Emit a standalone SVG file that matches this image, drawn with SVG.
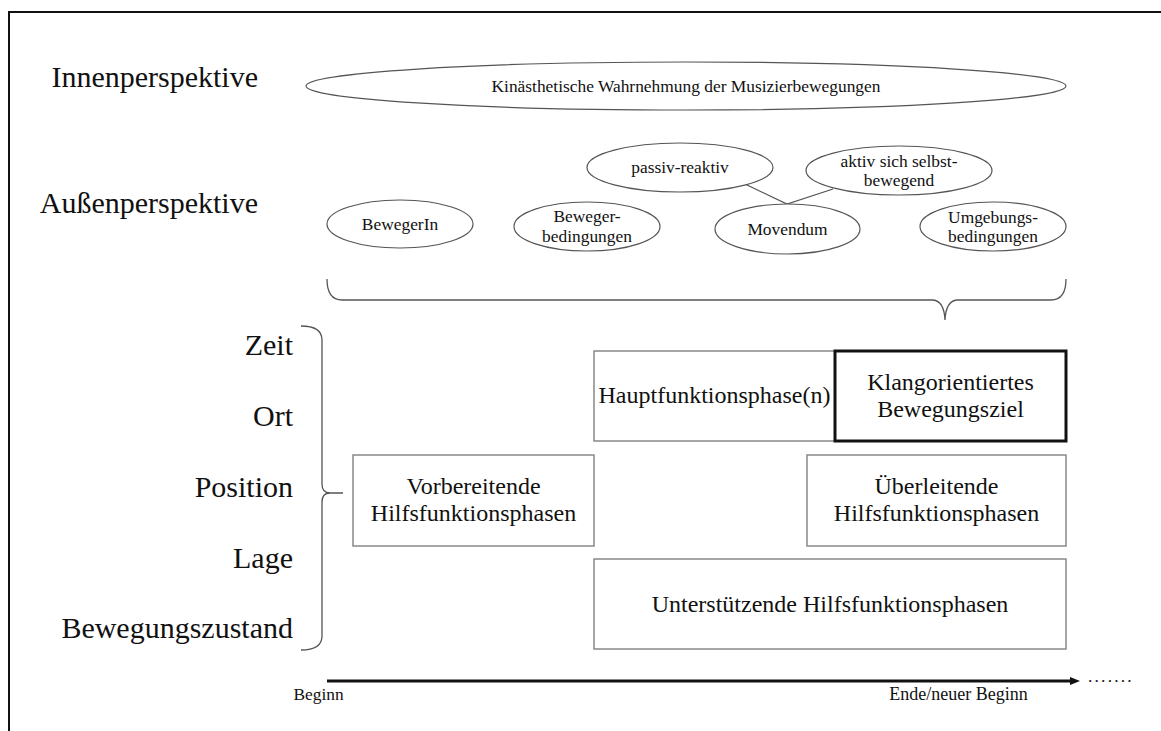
<svg xmlns="http://www.w3.org/2000/svg" width="1161" height="731" viewBox="0 0 1161 731">
<style>
  .t { font-family: "Liberation Serif", "Times New Roman", serif; fill: #111; }
  .big { font-size: 30px; }
  .mid { font-size: 24px; }
  .sm { font-size: 17.4px; }
  .ell { fill: #fff; stroke: #555; stroke-width: 1.2; }
  .box { fill: #fff; stroke: #888; stroke-width: 1.5; }
  .thick { fill: none; stroke: #111; stroke-width: 3; }
  .brace { fill: none; stroke: #555; stroke-width: 1.3; }
  .link { stroke: #555; stroke-width: 1.2; fill: none; }
</style>
<defs>
  <marker id="arrow" markerUnits="userSpaceOnUse" markerWidth="10" markerHeight="10" refX="4" refY="5" orient="auto">
    <path d="M0,1 L10,5 L0,9 z" fill="#111"/>
  </marker>
</defs>
<rect x="0" y="0" width="1161" height="731" fill="#fff"/>
<rect x="9" y="12" width="1220" height="800" fill="none" stroke="#111" stroke-width="2"/>

<g id="labels">
  <text class="t big" x="258" y="87" text-anchor="end">Innenperspektive</text>
  <text class="t big" x="258" y="213" text-anchor="end">Außenperspektive</text>
  <text class="t big" x="293" y="355" text-anchor="end">Zeit</text>
  <text class="t big" x="293" y="426" text-anchor="end">Ort</text>
  <text class="t big" x="293" y="497" text-anchor="end">Position</text>
  <text class="t big" x="293" y="568" text-anchor="end">Lage</text>
  <text class="t big" x="293" y="638" text-anchor="end">Bewegungszustand</text>
</g>

<g id="connectors">
  <path class="link" d="M745,184 L787,204 L833,189"/>
  <path class="brace" d="M327,279 Q327,300 342,300 L932,300 Q944,300 945,320 Q946,300 958,300 L1051,300 Q1066,300 1066,279"/>
  <path class="brace" d="M301,326 Q322,326 322,340 L322,484 Q322,493 330,493 L343,493 M330,493 Q322,493 322,502 L322,636 Q322,650 301,650"/>
  <line x1="327" y1="681" x2="1074" y2="681" stroke="#111" stroke-width="3" marker-end="url(#arrow)"/>
</g>

<g id="kinaesthetik">
  <ellipse class="ell" cx="686" cy="86" rx="380" ry="24"/>
  <text class="t sm" x="686" y="92" text-anchor="middle">Kinästhetische Wahrnehmung der Musizierbewegungen</text>
</g>
<g id="bewegerin">
  <ellipse class="ell" cx="400" cy="224" rx="73" ry="24"/>
  <text class="t sm" x="400" y="230" text-anchor="middle">BewegerIn</text>
</g>
<g id="bewegerbedingungen">
  <ellipse class="ell" cx="587" cy="226.5" rx="73" ry="24.5"/>
  <text class="t sm" x="587" y="222" text-anchor="middle">Beweger-</text>
  <text class="t sm" x="587" y="242" text-anchor="middle">bedingungen</text>
</g>
<g id="passiv">
  <ellipse class="ell" cx="680" cy="167.5" rx="93" ry="24.5"/>
  <text class="t sm" x="680" y="173" text-anchor="middle">passiv-reaktiv</text>
</g>
<g id="aktiv">
  <ellipse class="ell" cx="899" cy="170.5" rx="93" ry="24.5"/>
  <text class="t sm" x="899" y="167" text-anchor="middle">aktiv sich selbst-</text>
  <text class="t sm" x="899" y="186" text-anchor="middle">bewegend</text>
</g>
<g id="movendum">
  <ellipse class="ell" cx="787.5" cy="229" rx="72.5" ry="25"/>
  <text class="t sm" x="787.5" y="235" text-anchor="middle">Movendum</text>
</g>
<g id="umgebung">
  <ellipse class="ell" cx="993" cy="226.5" rx="73" ry="24.5"/>
  <text class="t sm" x="993" y="223" text-anchor="middle">Umgebungs-</text>
  <text class="t sm" x="993" y="242" text-anchor="middle">bedingungen</text>
</g>

<g id="hauptfunktion">
  <rect class="box" x="594" y="351" width="241" height="90"/>
  <text class="t mid" x="714.5" y="403" text-anchor="middle">Hauptfunktionsphase(n)</text>
</g>
<g id="klangziel">
  <rect class="thick" x="835" y="351" width="231" height="90"/>
  <text class="t mid" x="950.5" y="390" text-anchor="middle">Klangorientiertes</text>
  <text class="t mid" x="950.5" y="417" text-anchor="middle">Bewegungsziel</text>
</g>
<g id="vorbereitend">
  <rect class="box" x="353" y="455" width="241" height="91"/>
  <text class="t mid" x="473.5" y="494" text-anchor="middle">Vorbereitende</text>
  <text class="t mid" x="473.5" y="521" text-anchor="middle">Hilfsfunktionsphasen</text>
</g>
<g id="ueberleitend">
  <rect class="box" x="807" y="455" width="259" height="91"/>
  <text class="t mid" x="936.5" y="494" text-anchor="middle">Überleitende</text>
  <text class="t mid" x="936.5" y="521" text-anchor="middle">Hilfsfunktionsphasen</text>
</g>
<g id="unterstuetzend">
  <rect class="box" x="594" y="559" width="472" height="90"/>
  <text class="t mid" x="830" y="612" text-anchor="middle">Unterstützende Hilfsfunktionsphasen</text>
</g>

<g id="timeline-labels">
  <text class="t sm" x="318.5" y="700" text-anchor="middle">Beginn</text>
  <text class="t" style="font-size:18px" x="958.5" y="700" text-anchor="middle">Ende/neuer Beginn</text>
  <text class="t sm" x="1088" y="682" letter-spacing="2.2">.......</text>
</g>
</svg>
